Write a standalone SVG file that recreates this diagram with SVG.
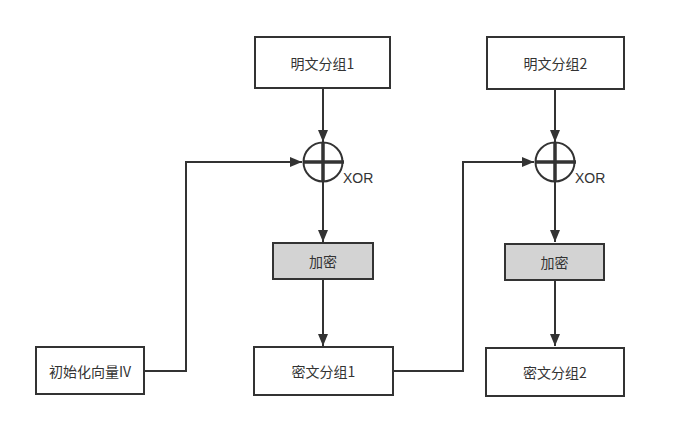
<svg xmlns="http://www.w3.org/2000/svg" width="687" height="441" viewBox="0 0 687 441">
<style>
.box{fill:#fff;stroke:#333;stroke-width:2}
.enc{fill:#d3d3d3;stroke:#333;stroke-width:2}
.t{font-family:"Noto Sans CJK SC","Microsoft YaHei",sans-serif;font-size:14px;fill:#333;text-anchor:middle;dominant-baseline:central}
.x{font-family:"Liberation Sans",Arial,sans-serif;font-size:14px;fill:#333}
.ln{fill:none;stroke:#333;stroke-width:2}
.xor{fill:#fff;stroke:#333;stroke-width:2}
.cross{stroke:#333;stroke-width:3.5}
</style>
<defs>
<marker id="ah" viewBox="0 0 12 10" refX="12" refY="5" markerWidth="12" markerHeight="10" markerUnits="userSpaceOnUse" orient="auto">
<path d="M0,0 L12,5 L0,10 Z" fill="#333"/>
</marker>
</defs>
<rect width="687" height="441" fill="#fff"/>
<g id="connectors">
<path class="ln" d="M323,88 V142" marker-end="url(#ah)"/>
<path class="ln" d="M144,371 H186 V162 H302" marker-end="url(#ah)"/>
<path class="ln" d="M323,182 V242" marker-end="url(#ah)"/>
<path class="ln" d="M323,280 V346" marker-end="url(#ah)"/>
<path class="ln" d="M555,89 V142" marker-end="url(#ah)"/>
<path class="ln" d="M393,371 H463 V162 H534" marker-end="url(#ah)"/>
<path class="ln" d="M555,182 V242" marker-end="url(#ah)"/>
<path class="ln" d="M555,280 V346" marker-end="url(#ah)"/>
</g>
<g id="p1"><rect class="box" x="255" y="37" width="135" height="51"/><text class="t" x="322.5" y="62.5">明文分组1</text></g>
<g id="p2"><rect class="box" x="487" y="37" width="137" height="52"/><text class="t" x="555.5" y="63">明文分组2</text></g>
<g id="xor1"><circle class="xor" cx="323" cy="162" r="19.5"/><line class="cross" x1="303.5" y1="162" x2="344" y2="162"/><line class="cross" x1="323" y1="142.5" x2="323" y2="182"/><text class="x" x="343" y="183">XOR</text></g>
<g id="xor2"><circle class="xor" cx="555" cy="162" r="19.5"/><line class="cross" x1="535.5" y1="162" x2="576" y2="162"/><line class="cross" x1="555" y1="142.5" x2="555" y2="182"/><text class="x" x="575" y="183">XOR</text></g>
<g id="e1"><rect class="enc" x="273" y="243" width="100" height="36"/><text class="t" x="323" y="261">加密</text></g>
<g id="e2"><rect class="enc" x="505" y="244" width="99" height="36"/><text class="t" x="554.5" y="262">加密</text></g>
<g id="iv"><rect class="box" x="36" y="347" width="108" height="47"/><text class="t" x="90" y="370.5">初始化向量IV</text></g>
<g id="c1"><rect class="box" x="254" y="347" width="139" height="48"/><text class="t" x="323.5" y="371">密文分组1</text></g>
<g id="c2"><rect class="box" x="486" y="348" width="138" height="48"/><text class="t" x="555" y="372">密文分组2</text></g>
</svg>
